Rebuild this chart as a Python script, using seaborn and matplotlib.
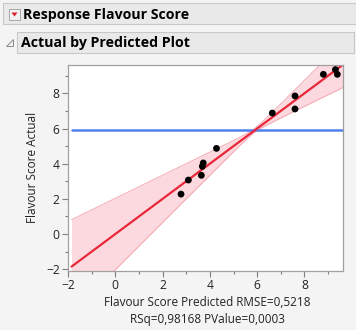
import numpy as np
import pandas as pd
import matplotlib
matplotlib.use("Agg")
import matplotlib.pyplot as plt
from matplotlib.patches import Rectangle, Polygon
import seaborn as sns

# ---- data ----
predicted = [2.78, 3.09, 3.64, 3.68, 3.72, 4.28, 6.64, 7.60, 7.60, 8.80, 9.31, 9.39]
actual    = [2.27, 3.07, 3.34, 3.85, 4.04, 4.87, 6.88, 7.85, 7.11, 9.08, 9.35, 9.08]
rmse = 0.5218
x_ticks = [-2, 0, 2, 4, 6, 8]
y_ticks = [-2, 0, 2, 4, 6, 8]
title1 = "Response Flavour Score"
title2 = "Actual by Predicted Plot"
xlabel = "Flavour Score Predicted RMSE=0,5218\nRSq=0,98168 PValue=0,0003"
ylabel = "Flavour Score Actual"

df = pd.DataFrame({"Predicted": predicted, "Actual": actual})
mean_actual = float(np.mean(actual))
xbar = float(np.mean(predicted))

sns.set_style("white")
plt.rcParams['font.family'] = ['Open Sans', 'DejaVu Sans']

W, H = 356, 330
fig = plt.figure(figsize=(W / 100, H / 100), dpi=100)
fig.patch.set_facecolor("#F4F4F4")

def px(x0, y0, w, h):
    return (x0 / W, 1 - (y0 + h) / H, w / W, h / H)

# header bars
r1 = Rectangle((3 / W, 1 - 24 / H), 353 / W, 21 / H, transform=fig.transFigure,
               facecolor="#E9E9E9", edgecolor="#C8C8C8", lw=0.8)
fig.patches.append(r1)
btn = Rectangle((9 / W, 1 - 20 / H), 11 / W, 11 / H, transform=fig.transFigure,
                facecolor="#F2F2F2", edgecolor="#A8A8A8", lw=0.7)
fig.patches.append(btn)
tri = Polygon([[11.5 / W, 1 - 12.5 / H], [17.5 / W, 1 - 12.5 / H], [14.5 / W, 1 - 16.5 / H]],
              closed=True, transform=fig.transFigure, facecolor="#D8202A", edgecolor="none")
fig.patches.append(tri)
fig.text(23 / W, 1 - 14.5 / H, title1, fontsize=10.2, fontweight="bold", va="center", ha="left",
         color="black")

r2 = Rectangle((17 / W, 1 - 53 / H), 337 / W, 21 / H, transform=fig.transFigure,
               facecolor="#E9E9E9", edgecolor="#C8C8C8", lw=0.8)
fig.patches.append(r2)
tri2 = Polygon([[6 / W, 1 - 46 / H], [13 / W, 1 - 46 / H], [13 / W, 1 - 39 / H]],
               closed=True, transform=fig.transFigure, facecolor="#F4F4F4", edgecolor="#8A8A8A", lw=0.7)
fig.patches.append(tri2)
fig.text(21 / W, 1 - 42.5 / H, title2, fontsize=10.2, fontweight="bold", va="center", ha="left",
         color="black")

ax = fig.add_axes(px(68, 65, 275, 206))
ax.set_facecolor("white")
xmin, xmax = -2, 9.63
ymin, ymax = -2.1, 9.61

# confidence band
xs = np.linspace(-1.85, xmax, 300)
half = np.sqrt(0.012 + 0.119 * (xs - xbar) ** 2)
ax.fill_between(xs, xs - half, xs + half, color="#FCD9DE", lw=0)
ax.plot(xs, xs + half, color="#F5A8B2", lw=0.7)
ax.plot(xs, xs - half, color="#F5A8B2", lw=0.7)

# mean line
ax.plot([-1.82, xmax], [mean_actual, mean_actual], color="#4D82EC", lw=1.8)

# fit line (y = x)
line_df = pd.DataFrame({"x": [-1.85, xmax], "y": [-1.85, xmax]})
sns.lineplot(data=line_df, x="x", y="y", ax=ax, color="#E8283A", lw=1.6)

sns.scatterplot(data=df, x="Predicted", y="Actual", ax=ax, color="black", s=24,
                edgecolor="none", zorder=5)

ax.set_xlim(xmin, xmax)
ax.set_ylim(ymin, ymax)
ax.set_xticks(x_ticks)
ax.set_yticks(y_ticks)
ax.set_xticks(np.arange(-1, 10, 2), minor=True)
ax.set_yticks(np.arange(-1, 10, 2), minor=True)
ax.tick_params(axis="both", which="major", length=4, width=0.8, color="#808080",
               labelsize=8.7, labelcolor="#222222", pad=2, direction="out")
ax.tick_params(axis="both", which="minor", length=2.5, width=0.8, color="#808080", direction="out")
ax.xaxis.set_ticks_position("bottom")
ax.yaxis.set_ticks_position("left")
for s in ax.spines.values():
    s.set_color("#A0A0A0")
    s.set_linewidth(0.9)
    s.set_visible(True)

ax.set_xlabel("")
ax.set_ylabel("")
fig.text(207 / W, 1 - 311 / H, xlabel, fontsize=8.5, ha="center", va="center",
         color="#222222", linespacing=1.35)
fig.text(32 / W, 1 - 167 / H, ylabel, fontsize=8.5, ha="center", va="center",
         rotation=90, color="#222222")

fig.savefig("out.png", dpi=100, facecolor=fig.get_facecolor())
